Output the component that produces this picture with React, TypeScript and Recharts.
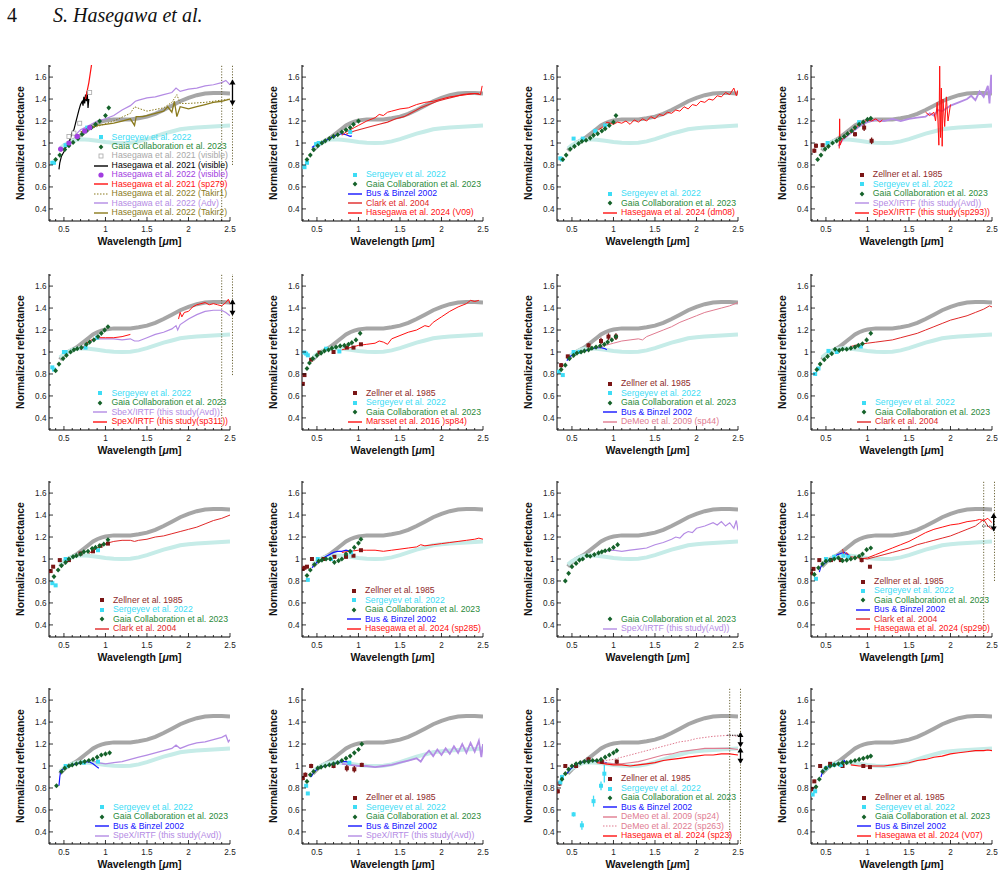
import React from 'react';
import { ComposedChart, Line, Scatter, XAxis, YAxis, ErrorBar, ReferenceLine, ReferenceDot, Legend } from 'recharts';

// ---------- axes ----------
const X_DOM = [0.32, 2.5];
const Y_DOM = [0.29, 1.71];
const X_TICKS = [0.4, 0.5, 0.6, 0.7, 0.8, 0.9, 1, 1.1, 1.2, 1.3, 1.4, 1.5, 1.6, 1.7, 1.8, 1.9, 2, 2.1, 2.2, 2.3, 2.4, 2.5];
const X_MAJOR = [0.5, 1, 1.5, 2, 2.5];
const Y_TICKS = [0.3, 0.4, 0.5, 0.6, 0.7, 0.8, 0.9, 1, 1.1, 1.2, 1.3, 1.4, 1.5, 1.6, 1.7];
const Y_MAJOR = [0.4, 0.6, 0.8, 1, 1.2, 1.4, 1.6];

// ---------- templates (all panels) ----------
const GRAY_TEMPLATE = [[0.45,0.93],[0.5,0.97],[0.55,1.0],[0.6,1.02],[0.65,1.04],[0.7,1.07],[0.75,1.1],[0.8,1.13],[0.85,1.16],[0.9,1.18],[0.95,1.195],[1.0,1.205],[1.1,1.215],[1.2,1.215],[1.3,1.215],[1.4,1.225],[1.5,1.24],[1.6,1.265],[1.7,1.3],[1.8,1.34],[1.9,1.38],[2.0,1.41],[2.1,1.435],[2.2,1.45],[2.3,1.455],[2.4,1.455],[2.5,1.45]];
const CYAN_TEMPLATE = [[0.45,0.95],[0.5,0.98],[0.55,1.0],[0.6,1.02],[0.65,1.03],[0.7,1.035],[0.8,1.03],[0.9,1.02],[1.0,1.01],[1.1,1.003],[1.2,1.0],[1.3,1.003],[1.4,1.015],[1.5,1.035],[1.6,1.06],[1.7,1.085],[1.8,1.105],[1.9,1.125],[2.0,1.135],[2.1,1.14],[2.2,1.145],[2.3,1.15],[2.4,1.155],[2.5,1.16]];

// ---------- 203 Pompeja ----------
const POMPEJA_SERG = [[0.36,0.82],[0.38,0.82],[0.52,0.98],[0.78,1.14]];
const POMPEJA_GAIA = [[0.4,0.85],[0.45,0.89],[0.51,0.94],[0.56,0.975],[0.61,1.005],[0.67,1.04],[0.72,1.08],[0.77,1.11],[0.83,1.14],[0.88,1.17],[0.93,1.2],[1.0,1.25],[1.04,1.32]];
const POMPEJA_H21SQ = [[0.56,1.06],[0.62,1.09],[0.69,1.18],[0.81,1.46]];
const POMPEJA_H21VIS = [[0.44,0.76],[0.45,0.82],[0.47,0.88],[0.5,0.92],[0.53,0.97],[0.56,1.0],[0.58,1.05],[0.6,1.1],[0.62,1.12],[0.64,1.18],[0.66,1.24],[0.68,1.3],[0.7,1.35],[0.72,1.38],[0.73,1.34],[0.74,1.42],[0.75,1.36],[0.76,1.44],[0.77,1.38],[0.78,1.47],[0.79,1.32],[0.8,1.4]];
const POMPEJA_H22VIS = [[0.46,0.945],[0.56,1.0],[0.66,1.06],[0.75,1.11],[0.81,1.14]];
const POMPEJA_SP279 = [[0.76,1.4],[0.8,1.55],[0.84,1.75]];
const POMPEJA_TAKIR1 = [[0.72,1.1],[0.9,1.15],[1.1,1.2],[1.3,1.27],[1.35,1.33],[1.42,1.31],[1.5,1.29],[1.7,1.32],[1.8,1.37],[1.86,1.44],[1.9,1.36],[2.0,1.36],[2.2,1.37],[2.4,1.39],[2.5,1.4]];
const POMPEJA_ADV = [[0.62,1.06],[0.7,1.12],[0.8,1.16],[0.9,1.2],[1.0,1.22],[1.1,1.25],[1.2,1.3],[1.3,1.34],[1.36,1.38],[1.4,1.39],[1.5,1.41],[1.6,1.42],[1.7,1.44],[1.8,1.46],[1.85,1.5],[1.9,1.47],[2.0,1.49],[2.1,1.5],[2.2,1.52],[2.3,1.53],[2.4,1.55],[2.45,1.57],[2.5,1.53]];
const POMPEJA_TAKIR2 = [[0.7,1.1],[0.8,1.13],[0.9,1.16],[1.0,1.17],[1.1,1.18],[1.2,1.2],[1.3,1.22],[1.35,1.16],[1.37,1.24],[1.45,1.24],[1.5,1.25],[1.6,1.27],[1.7,1.29],[1.75,1.33],[1.8,1.28],[1.83,1.38],[1.86,1.24],[1.9,1.33],[2.0,1.31],[2.1,1.33],[2.2,1.35],[2.3,1.37],[2.4,1.38],[2.5,1.4]];

// ---------- 409 Aspasia ----------
const ASPASIA_SERG = [[0.35,0.78],[0.38,0.82],[0.49,0.99],[0.52,1.0],[0.9,1.1]];
const ASPASIA_GAIA = [[0.38,0.85],[0.42,0.89],[0.46,0.94],[0.51,0.975],[0.56,1.0],[0.6,1.02],[0.65,1.04],[0.7,1.06],[0.75,1.075],[0.8,1.1],[0.85,1.12],[0.9,1.14],[0.94,1.17],[1.0,1.2]];
const ASPASIA_BUS = [[0.44,0.96],[0.46,0.97],[0.5,0.985],[0.55,1.0],[0.6,1.02],[0.65,1.04],[0.7,1.06],[0.75,1.075],[0.8,1.085],[0.85,1.075],[0.9,1.06],[0.92,1.065]];
const ASPASIA_CLARK = [[0.85,1.08],[0.95,1.11],[1.05,1.13],[1.15,1.15],[1.25,1.17],[1.35,1.19],[1.45,1.22],[1.55,1.24],[1.65,1.28],[1.75,1.32],[1.85,1.35],[1.95,1.38],[2.05,1.4],[2.15,1.42],[2.25,1.44],[2.35,1.45],[2.45,1.45]];
const ASPASIA_V09 = [[0.8,1.07],[0.85,1.1],[0.9,1.12],[0.95,1.14],[1.0,1.16],[1.1,1.2],[1.2,1.23],[1.25,1.26],[1.3,1.25],[1.35,1.28],[1.4,1.29],[1.5,1.31],[1.6,1.32],[1.7,1.35],[1.8,1.37],[1.9,1.38],[2.0,1.4],[2.1,1.42],[2.2,1.43],[2.3,1.44],[2.4,1.45],[2.47,1.44],[2.49,1.52]];

// ---------- 212 Medea ----------
const MEDEA_SERG = [[0.36,0.86],[0.38,0.85],[0.52,1.04],[0.63,1.04],[0.78,1.11],[0.9,1.16]];
const MEDEA_GAIA = [[0.39,0.85],[0.43,0.89],[0.48,0.945],[0.53,0.97],[0.58,0.995],[0.62,1.015],[0.67,1.025],[0.72,1.045],[0.76,1.07],[0.81,1.085],[0.86,1.11],[0.9,1.13],[0.95,1.16],[1.0,1.19],[1.03,1.25]];
const MEDEA_DM08 = [[0.82,1.12],[0.88,1.15],[0.92,1.19],[0.96,1.18],[1.0,1.17],[1.05,1.19],[1.1,1.18],[1.15,1.2],[1.2,1.17],[1.25,1.21],[1.3,1.19],[1.35,1.22],[1.4,1.2],[1.45,1.24],[1.5,1.22],[1.55,1.26],[1.6,1.25],[1.65,1.28],[1.7,1.27],[1.75,1.3],[1.8,1.29],[1.85,1.33],[1.9,1.31],[1.95,1.35],[2.0,1.34],[2.05,1.38],[2.1,1.37],[2.15,1.4],[2.2,1.39],[2.25,1.43],[2.3,1.42],[2.35,1.46],[2.4,1.44],[2.45,1.5],[2.48,1.43],[2.5,1.48]];

// ---------- 1390 Abastumani ----------
const ABAS_ZELL = [[0.36,0.93,0.02],[0.38,0.975,0.02],[0.46,0.98,0.015],[0.85,1.08,0.02],[0.96,1.14,0.03],[1.05,1.02,0.03]];
const ABAS_SERG = [[0.52,1.0],[0.9,1.19]];
const ABAS_GAIA = [[0.4,0.85],[0.44,0.89],[0.49,0.945],[0.53,0.97],[0.58,1.0],[0.63,1.02],[0.67,1.04],[0.72,1.06],[0.76,1.085],[0.81,1.11],[0.85,1.14],[0.9,1.17],[0.95,1.19],[1.0,1.215],[1.04,1.225]];
const ABAS_AVD = [[0.65,0.97],[0.7,1.03],[0.8,1.09],[0.9,1.15],[1.0,1.19],[1.1,1.21],[1.2,1.2],[1.3,1.22],[1.4,1.2],[1.5,1.22],[1.6,1.23],[1.7,1.24],[1.75,1.27],[1.8,1.25],[1.85,1.3],[1.9,1.29],[2.0,1.34],[2.1,1.37],[2.2,1.4],[2.25,1.43],[2.3,1.39],[2.35,1.47],[2.4,1.42],[2.45,1.52],[2.47,1.36],[2.49,1.62],[2.5,1.45]];
const ABAS_SP293 = [[0.66,0.95],[0.665,1.22],[0.67,0.98],[0.7,1.04],[0.75,1.06],[0.8,1.1],[0.85,1.13],[0.9,1.17],[0.95,1.19],[1.0,1.21],[1.05,1.2],[1.1,1.22],[1.15,1.19],[1.18,1.21],[1.19,null],[1.68,null],[1.7,1.28],[1.75,1.25],[1.8,1.28],[1.82,1.2],[1.84,1.37],[1.86,0.98],[1.87,1.7],[1.88,1.05],[1.89,1.5],[1.9,0.97],[1.91,1.4],[1.93,1.15],[1.95,1.42],[1.97,1.2],[2.0,1.35]];

// ---------- 1093 Freda ----------
const FREDA_SERG = [[0.36,0.86],[0.38,0.84],[0.5,1.0],[0.52,1.0],[0.76,1.04],[0.9,1.13]];
const FREDA_GAIA = [[0.4,0.83],[0.44,0.89],[0.49,0.94],[0.53,0.97],[0.58,1.0],[0.62,1.02],[0.66,1.03],[0.71,1.04],[0.77,1.07],[0.81,1.09],[0.86,1.11],[0.91,1.14],[0.95,1.17],[0.99,1.2],[1.03,1.23]];
const FREDA_AVD = [[0.7,1.02],[0.8,1.09],[0.9,1.12],[1.0,1.12],[1.1,1.12],[1.2,1.11],[1.3,1.12],[1.35,1.1],[1.4,1.1],[1.5,1.13],[1.6,1.16],[1.7,1.18],[1.8,1.21],[1.85,1.24],[1.87,1.2],[1.9,1.25],[2.0,1.3],[2.1,1.34],[2.2,1.37],[2.3,1.38],[2.4,1.38],[2.45,1.36],[2.5,1.33]];
const FREDA_SP311 = [[0.7,1.02],[0.8,1.1],[0.9,1.13],[1.0,1.13],[1.1,1.13],[1.2,1.14],[1.3,1.16],[1.31,null],[1.87,null],[1.88,1.3],[1.9,1.36],[1.92,1.32],[1.95,1.36],[2.0,1.37],[2.05,1.41],[2.1,1.43],[2.15,1.44],[2.2,1.45],[2.25,1.43],[2.3,1.44],[2.35,1.43],[2.4,1.42],[2.45,1.45],[2.48,1.48],[2.5,1.44]];

// ---------- 268 Adorea ----------
const ADOREA_ZELL = [[0.33,0.71,0.01],[0.35,0.79,0.01],[0.43,0.93,0.01],[0.53,0.995,0.01],[0.7,1.0,0.01],[0.86,1.04,0.01],[0.94,1.04,0.01],[1.03,1.07,0.01]];
const ADOREA_SERG = [[0.35,0.995],[0.37,0.985],[0.39,0.97],[0.61,1.03],[0.77,1.005]];
const ADOREA_GAIA = [[0.38,0.85],[0.41,0.9],[0.45,0.94],[0.5,0.97],[0.55,0.99],[0.59,1.01],[0.64,1.02],[0.68,1.035],[0.73,1.045],[0.78,1.055],[0.83,1.06],[0.88,1.07],[0.92,1.085],[0.97,1.11],[1.02,1.17]];
const ADOREA_SP84 = [[0.8,1.02],[0.9,1.04],[1.0,1.06],[1.1,1.07],[1.2,1.08],[1.25,1.1],[1.3,1.09],[1.35,1.07],[1.4,1.12],[1.5,1.15],[1.6,1.18],[1.7,1.2],[1.8,1.24],[1.85,1.23],[1.9,1.27],[2.0,1.32],[2.1,1.37],[2.2,1.41],[2.3,1.44],[2.35,1.47],[2.4,1.46],[2.45,1.47]];

// ---------- 76 Freia ----------
const FREIA_ZELL = [[0.37,0.88,0.02],[0.45,0.96,0.015],[0.7,1.06,0.02],[0.85,1.1,0.03],[0.94,1.14,0.03],[1.03,1.14,0.03]];
const FREIA_SERG = [[0.34,0.82],[0.39,0.79],[0.52,1.0],[0.59,1.0]];
const FREIA_GAIA = [[0.37,0.84],[0.42,0.88],[0.47,0.94],[0.52,0.97],[0.56,0.99],[0.61,1.0],[0.65,1.01],[0.7,1.02],[0.74,1.035],[0.79,1.045],[0.84,1.055],[0.89,1.07],[0.93,1.09],[0.98,1.11],[1.03,1.14]];
const FREIA_BUS = [[0.44,0.92],[0.46,0.95],[0.5,0.97],[0.55,0.99],[0.6,1.0],[0.65,1.01],[0.7,1.02],[0.75,1.03],[0.8,1.04],[0.85,1.04],[0.9,1.03],[0.92,1.02]];
const FREIA_SP44 = [[0.82,1.04],[0.9,1.06],[1.0,1.08],[1.1,1.1],[1.2,1.11],[1.3,1.12],[1.35,1.11],[1.4,1.14],[1.5,1.17],[1.6,1.2],[1.7,1.23],[1.8,1.27],[1.9,1.3],[2.0,1.33],[2.1,1.36],[2.2,1.38],[2.3,1.4],[2.4,1.42],[2.5,1.45]];

// ---------- 517 Edith ----------
const EDITH_SERG = [[0.37,0.8],[0.41,0.85],[0.53,1.01],[0.63,1.0],[0.92,1.05]];
const EDITH_GAIA = [[0.39,0.84],[0.43,0.89],[0.48,0.93],[0.52,0.96],[0.57,0.985],[0.61,1.025],[0.66,1.015],[0.7,1.025],[0.75,1.025],[0.8,1.035],[0.85,1.045],[0.89,1.06],[0.94,1.075],[0.99,1.11],[1.04,1.17]];
const EDITH_CLARK = [[0.8,1.05],[0.9,1.07],[1.0,1.08],[1.1,1.09],[1.2,1.1],[1.3,1.11],[1.4,1.13],[1.5,1.15],[1.6,1.17],[1.7,1.2],[1.8,1.23],[1.9,1.26],[2.0,1.29],[2.1,1.31],[2.2,1.33],[2.3,1.36],[2.4,1.39],[2.47,1.42],[2.5,1.41]];

// ---------- 536 Merapi ----------
const MERAPI_ZELL = [[0.34,0.89,0.015],[0.37,0.93,0.01],[0.45,0.99,0.01],[0.56,0.99,0.01],[0.7,1.05,0.01],[0.85,1.07,0.015],[0.94,1.12,0.01],[1.03,1.14,0.01]];
const MERAPI_SERG = [[0.36,0.78],[0.4,0.76],[0.52,1.0],[0.91,1.08]];
const MERAPI_GAIA = [[0.38,0.84],[0.43,0.9],[0.47,0.94],[0.52,0.97],[0.56,1.0],[0.61,1.02],[0.65,1.03],[0.7,1.045],[0.74,1.065],[0.79,1.07],[0.84,1.095],[0.88,1.105],[0.93,1.12],[0.98,1.135],[1.03,1.175]];
const MERAPI_CLARK = [[0.8,1.05],[0.9,1.1],[1.0,1.14],[1.1,1.16],[1.2,1.17],[1.3,1.17],[1.35,1.16],[1.4,1.17],[1.5,1.18],[1.6,1.2],[1.7,1.21],[1.8,1.23],[1.9,1.25],[2.0,1.27],[2.1,1.29],[2.2,1.32],[2.3,1.35],[2.4,1.37],[2.5,1.4]];

// ---------- 117 Lomia ----------
const LOMIA_ZELL = [[0.33,0.91,0.01],[0.35,0.92,0.01],[0.38,0.93,0.01],[0.44,1.0,0.01],[0.58,1.0,0.01],[0.71,1.02,0.01],[0.85,1.02,0.015],[0.94,1.03,0.01],[1.03,1.08,0.01]];
const LOMIA_SERG = [[0.39,0.81],[0.51,1.0],[0.67,1.0],[0.91,1.06]];
const LOMIA_GAIA = [[0.38,0.85],[0.42,0.9],[0.47,0.95],[0.52,0.98],[0.56,0.99],[0.61,1.0],[0.66,1.0],[0.71,0.97],[0.76,0.985],[0.8,1.0],[0.85,1.045],[0.9,1.07],[0.95,1.105],[1.0,1.145],[1.03,1.18]];
const LOMIA_BUS = [[0.44,0.92],[0.46,0.94],[0.5,0.97],[0.55,0.99],[0.6,1.02],[0.65,1.04],[0.7,1.06],[0.75,1.07],[0.8,1.07],[0.85,1.08],[0.9,1.07],[0.92,1.08]];
const LOMIA_SP285 = [[0.8,1.06],[0.9,1.07],[1.0,1.08],[1.1,1.08],[1.2,1.08],[1.3,1.07],[1.4,1.08],[1.5,1.09],[1.6,1.1],[1.7,1.11],[1.75,1.13],[1.8,1.12],[1.9,1.13],[2.0,1.14],[2.1,1.15],[2.2,1.16],[2.3,1.17],[2.4,1.18],[2.45,1.19],[2.5,1.18]];

// ---------- 780 Armenia ----------
const ARMENIA_GAIA = [[0.42,0.8],[0.46,0.87],[0.5,0.93],[0.55,0.96],[0.59,0.99],[0.63,1.0],[0.68,1.03],[0.72,1.025],[0.77,1.04],[0.82,1.055],[0.86,1.065],[0.9,1.075],[0.95,1.085],[1.0,1.105],[1.05,1.13]];
const ARMENIA_AVD = [[0.9,1.07],[1.0,1.08],[1.1,1.07],[1.2,1.08],[1.3,1.09],[1.4,1.1],[1.5,1.13],[1.6,1.15],[1.7,1.18],[1.75,1.2],[1.8,1.19],[1.85,1.23],[1.9,1.25],[1.95,1.24],[2.0,1.28],[2.1,1.3],[2.2,1.33],[2.25,1.31],[2.3,1.34],[2.35,1.3],[2.4,1.33],[2.45,1.28],[2.48,1.35],[2.5,1.26]];

// ---------- 209 Dido ----------
const DIDO_ZELL = [[0.32,0.87,0.01],[0.35,0.91,0.01],[0.42,0.99,0.01],[0.56,0.99,0.01],[0.68,0.99,0.01],[0.93,0.99,0.02],[1.03,0.93,0.015]];
const DIDO_SERG = [[0.38,0.82],[0.5,1.0],[0.6,1.02],[0.71,1.03],[0.77,1.02]];
const DIDO_GAIA = [[0.36,0.86],[0.41,0.92],[0.46,0.955],[0.5,0.98],[0.55,0.99],[0.6,1.0],[0.65,1.01],[0.7,0.985],[0.75,0.99],[0.8,1.0],[0.85,1.01],[0.9,1.025],[0.94,1.045],[0.99,1.085],[1.04,1.1]];
const DIDO_BUS = [[0.42,0.88],[0.44,0.93],[0.48,0.96],[0.52,0.98],[0.56,1.0],[0.6,1.02],[0.64,1.04],[0.68,1.05],[0.72,1.06],[0.76,1.04],[0.78,1.03]];
const DIDO_CLARK = [[0.7,1.09],[0.72,1.03],[0.75,1.06],[0.8,1.02],[0.9,1.01],[1.0,1.0],[1.1,1.02],[1.2,1.04],[1.3,1.06],[1.4,1.08],[1.5,1.1],[1.6,1.13],[1.7,1.15],[1.8,1.17],[1.9,1.19],[2.0,1.21],[2.1,1.24],[2.2,1.27],[2.3,1.3],[2.35,1.33],[2.4,1.36],[2.45,1.3],[2.5,1.27]];
const DIDO_SP290 = [[0.9,1.0],[1.0,1.01],[1.1,1.04],[1.2,1.07],[1.3,1.1],[1.4,1.13],[1.5,1.16],[1.6,1.2],[1.7,1.24],[1.8,1.27],[1.9,1.29],[2.0,1.31],[2.1,1.32],[2.2,1.34],[2.3,1.35],[2.35,1.36],[2.4,1.35],[2.45,1.37],[2.5,1.33]];

// ---------- 491 Carina ----------
const CARINA_SERG = [[0.52,1.0],[0.74,1.03],[0.91,1.04]];
const CARINA_GAIA = [[0.41,0.82],[0.47,0.95],[0.51,0.98],[0.56,1.0],[0.6,1.01],[0.65,1.02],[0.7,1.03],[0.75,1.04],[0.8,1.05],[0.85,1.06],[0.9,1.08],[0.95,1.1],[1.0,1.11],[1.05,1.12]];
const CARINA_BUS = [[0.44,0.82],[0.45,0.9],[0.46,0.95],[0.5,0.98],[0.55,1.0],[0.6,1.01],[0.65,1.02],[0.7,1.03],[0.75,1.035],[0.8,1.04],[0.85,1.02],[0.9,0.99],[0.92,0.98]];
const CARINA_AVD = [[0.85,1.05],[0.9,1.03],[1.0,1.02],[1.1,1.03],[1.2,1.04],[1.3,1.06],[1.4,1.08],[1.5,1.1],[1.6,1.12],[1.7,1.14],[1.8,1.16],[1.85,1.19],[1.9,1.16],[2.0,1.19],[2.1,1.21],[2.2,1.22],[2.3,1.24],[2.4,1.26],[2.45,1.28],[2.48,1.22],[2.5,1.24]];

// ---------- 713 Luscinia ----------
const LUSCINIA_ZELL = [[0.33,0.89,0.02],[0.36,0.92,0.02],[0.43,1.0,0.02],[0.7,1.0,0.02],[0.86,0.98,0.03],[0.95,0.97,0.03],[1.04,1.01,0.02]];
const LUSCINIA_SERG = [[0.37,0.82],[0.39,0.75],[0.89,1.03]];
const LUSCINIA_GAIA = [[0.38,0.86],[0.42,0.92],[0.46,0.95],[0.51,0.98],[0.55,0.99],[0.6,1.0],[0.65,1.01],[0.7,1.02],[0.75,1.03],[0.8,1.05],[0.85,1.07],[0.9,1.09],[0.95,1.12],[1.0,1.15],[1.04,1.2]];
const LUSCINIA_BUS = [[0.43,0.9],[0.46,0.94],[0.5,0.97],[0.55,0.99],[0.6,1.0],[0.65,1.01],[0.7,1.02],[0.75,1.03],[0.8,1.04],[0.85,1.04],[0.9,1.03]];
const LUSCINIA_AVD = [[0.8,1.02],[0.9,1.01],[1.0,1.0],[1.1,1.0],[1.2,0.99],[1.3,1.0],[1.4,1.01],[1.5,1.03],[1.6,1.05],[1.7,1.07],[1.75,1.04],[1.8,1.1],[1.85,1.14],[1.9,1.09],[1.95,1.15],[2.0,1.1],[2.05,1.16],[2.1,1.11],[2.15,1.18],[2.2,1.12],[2.25,1.2],[2.3,1.12],[2.35,1.21],[2.4,1.13],[2.45,1.23],[2.48,1.08],[2.5,1.2]];

// ---------- 128 Nemesis ----------
const NEMESIS_ZELL = [[0.33,0.77,0.02],[0.35,0.84,0.02],[0.42,1.0,0.015],[0.55,1.0,0.015],[0.7,1.06,0.02],[0.86,1.04,0.02],[1.04,1.04,0.02]];
const NEMESIS_SERG = [[0.36,0.85,0.02],[0.38,0.9,0.02],[0.52,0.56,0.02],[0.62,0.46,0.04],[0.76,0.68,0.05],[0.85,0.82,0.04],[0.89,0.93,0.08]];
const NEMESIS_GAIA = [[0.38,0.88],[0.42,0.93],[0.46,0.97],[0.5,1.0],[0.55,1.02],[0.6,1.03],[0.65,1.04],[0.7,1.04],[0.75,1.05],[0.8,1.05],[0.85,1.06],[0.9,1.08],[0.95,1.1],[1.0,1.12],[1.04,1.14]];
const NEMESIS_BUS = [[0.44,0.93],[0.48,0.97],[0.52,1.0],[0.56,1.02],[0.6,1.03],[0.65,1.04],[0.7,1.05],[0.75,1.05],[0.8,1.045],[0.85,1.04],[0.9,1.03],[0.92,1.03]];
const NEMESIS_SP24 = [[0.82,1.04],[0.9,1.03],[1.0,1.02],[1.1,1.02],[1.2,1.03],[1.3,1.04],[1.4,1.06],[1.5,1.08],[1.6,1.1],[1.7,1.11],[1.8,1.13],[1.9,1.14],[2.0,1.15],[2.1,1.16],[2.2,1.16],[2.3,1.16],[2.4,1.16],[2.5,1.15]];
const NEMESIS_SP263 = [[0.8,1.05],[0.9,1.05],[1.0,1.06],[1.1,1.08],[1.2,1.1],[1.3,1.12],[1.4,1.14],[1.5,1.16],[1.6,1.18],[1.7,1.2],[1.8,1.22],[1.9,1.23],[2.0,1.25],[2.1,1.26],[2.2,1.27],[2.3,1.275],[2.4,1.28],[2.5,1.27]];
const NEMESIS_SP23 = [[0.8,1.03],[0.9,1.02],[1.0,1.01],[1.1,1.01],[1.2,1.0],[1.3,1.01],[1.4,1.02],[1.5,1.03],[1.6,1.05],[1.7,1.06],[1.8,1.07],[1.9,1.08],[2.0,1.09],[2.1,1.1],[2.2,1.1],[2.3,1.11],[2.4,1.11],[2.5,1.1]];

// ---------- 206 Hersilia ----------
const HERSILIA_ZELL = [[0.33,0.79,0.02],[0.36,0.86,0.015],[0.43,1.0,0.015],[0.55,1.02,0.015],[0.7,1.0,0.015],[0.95,1.0,0.015],[1.03,0.99,0.015]];
const HERSILIA_SERG = [[0.34,0.74],[0.37,0.77],[0.5,0.98],[0.6,1.01],[0.68,1.01]];
const HERSILIA_GAIA = [[0.38,0.81],[0.42,0.88],[0.46,0.95],[0.5,0.98],[0.55,1.0],[0.6,1.01],[0.65,1.02],[0.7,1.03],[0.75,1.03],[0.8,1.04],[0.85,1.05],[0.9,1.06],[0.95,1.07],[1.0,1.08],[1.04,1.09]];
const HERSILIA_BUS = [[0.44,0.9],[0.46,0.95],[0.5,0.98],[0.55,1.0],[0.6,1.01],[0.65,1.02],[0.7,1.03],[0.72,1.05],[0.75,1.02]];
const HERSILIA_V07 = [[0.8,1.01],[0.9,1.0],[1.0,1.0],[1.1,1.0],[1.2,1.0],[1.3,1.01],[1.4,1.02],[1.5,1.03],[1.6,1.05],[1.7,1.06],[1.8,1.08],[1.9,1.09],[2.0,1.11],[2.1,1.12],[2.2,1.13],[2.3,1.14],[2.4,1.14],[2.45,1.145],[2.5,1.14]];

// ---------- styles ----------
const FONT = "'Liberation Sans', Arial, Helvetica, sans-serif";
const C = {
  serg: '#3ddcf5', gaia: '#15622a', gaiaT: '#2a8a3a', zell: '#7a1515', zellT: '#8e2a2a',
  bus: '#1414ff', clark: '#e02828', has: '#ff1010', avd: '#b48be4', demeo: '#e07b90',
  olive: '#8a7a1c', purple: '#a23de0', graysq: '#a8a8a8', black: '#000000',
  grayT: '#a6a6a6', cyanT: '#c6ece8'
};

const L = (t, c, s, tc) => ({ t, c, s, tc: tc || c });
const LG = {
  zell: L('Zellner et al. 1985', C.zell, 'sq', C.zellT),
  serg: L('Sergeyev et al. 2022', C.serg, 'sq'),
  gaia: L('Gaia Collaboration et al. 2023', C.gaia, 'dia', C.gaiaT),
  bus: L('Bus & Binzel 2002', C.bus, 'line'),
  clark: L('Clark et al. 2004', C.clark, 'line'),
};

const PANELS = [
  { title: '203 Pompeja',
    lines: [{ d: POMPEJA_ADV, c: C.avd, w: 1.2 }, { d: POMPEJA_TAKIR1, c: C.olive, w: 1, dash: '1.5 1.5' }, { d: POMPEJA_TAKIR2, c: C.olive, w: 1.3 }, { d: POMPEJA_H21VIS, c: C.black, w: 1.2 }, { d: POMPEJA_SP279, c: C.has, w: 1.2 }],
    pts: [{ d: POMPEJA_SERG, c: C.serg, s: 'sq' }, { d: POMPEJA_GAIA, c: C.gaia, s: 'dia' }, { d: POMPEJA_H21SQ, c: C.graysq, s: 'osq' }, { d: POMPEJA_H22VIS, c: C.purple, s: 'circ' }],
    legend: [LG.serg, LG.gaia, L('Hasegawa et al. 2021 (visible)', C.graysq, 'osq'), L('Hasegawa et al. 2021 (visible)', C.black, 'line'), L('Hasegawa et al. 2022 (visible)', C.purple, 'circ'), L('Hasegawa et al. 2021 (sp279)', C.has, 'line'), L('Hasegawa et al. 2022 (Takir1)', C.olive, 'dot'), L('Hasegawa et al. 2022 (Adv)', C.avd, 'line'), L('Hasegawa et al. 2022 (Takir2)', C.olive, 'line')],
    vlines: [{ x: 2.4, y1: 0.29, y2: 1.71 }, { x: 2.53, y1: 0.8, y2: 1.71 }], hlines: [], arrows: [{ x: 2.53, y1: 1.35, y2: 1.57 }] },
  { title: '409 Aspasia',
    lines: [{ d: ASPASIA_BUS, c: C.bus, w: 1.2 }, { d: ASPASIA_CLARK, c: C.clark, w: 1.1 }, { d: ASPASIA_V09, c: C.has, w: 1 }],
    pts: [{ d: ASPASIA_SERG, c: C.serg, s: 'sq' }, { d: ASPASIA_GAIA, c: C.gaia, s: 'dia' }],
    legend: [LG.serg, LG.gaia, LG.bus, LG.clark, L('Hasegawa et al. 2024 (V09)', C.has, 'line')], vlines: [], hlines: [], arrows: [] },
  { title: '212 Medea',
    lines: [{ d: MEDEA_DM08, c: C.has, w: 1 }],
    pts: [{ d: MEDEA_SERG, c: C.serg, s: 'sq' }, { d: MEDEA_GAIA, c: C.gaia, s: 'dia' }],
    legend: [LG.serg, LG.gaia, L('Hasegawa et al. 2024 (dm08)', C.has, 'line')], vlines: [], hlines: [], arrows: [] },
  { title: '1390 Abastumani',
    lines: [{ d: ABAS_AVD, c: C.avd, w: 1.8 }, { d: ABAS_SP293, c: C.has, w: 1 }],
    pts: [{ d: ABAS_ZELL, c: C.zell, s: 'sq', err: true }, { d: ABAS_SERG, c: C.serg, s: 'sq' }, { d: ABAS_GAIA, c: C.gaia, s: 'dia' }],
    legend: [LG.zell, LG.serg, LG.gaia, L('SpeX/IRTF (this study(Avd))', C.avd, 'line'), L('SpeX/IRTF (this study(sp293))', C.has, 'line')], vlines: [], hlines: [], arrows: [] },
  { title: '1093 Freda',
    lines: [{ d: FREDA_AVD, c: C.avd, w: 1.2 }, { d: FREDA_SP311, c: C.has, w: 1 }],
    pts: [{ d: FREDA_SERG, c: C.serg, s: 'sq' }, { d: FREDA_GAIA, c: C.gaia, s: 'dia' }],
    legend: [LG.serg, LG.gaia, L('SbeX/IRTF (this study(Avd))', C.avd, 'line'), L('SpeX/IRTF (this study(sp311))', C.has, 'line')],
    vlines: [{ x: 2.4, y1: 0.29, y2: 1.71 }, { x: 2.53, y1: 0.79, y2: 1.71 }], hlines: [], arrows: [{ x: 2.53, y1: 1.34, y2: 1.47 }] },
  { title: '268 Adorea',
    lines: [{ d: ADOREA_SP84, c: C.has, w: 1 }],
    pts: [{ d: ADOREA_ZELL, c: C.zell, s: 'sq', err: true }, { d: ADOREA_SERG, c: C.serg, s: 'sq' }, { d: ADOREA_GAIA, c: C.gaia, s: 'dia' }],
    legend: [LG.zell, LG.serg, LG.gaia, L('Marsset et al. 2016 )sp84)', C.has, 'line')], vlines: [], hlines: [], arrows: [] },
  { title: '76 Freia',
    lines: [{ d: FREIA_BUS, c: C.bus, w: 1.2 }, { d: FREIA_SP44, c: C.demeo, w: 1 }],
    pts: [{ d: FREIA_ZELL, c: C.zell, s: 'sq', err: true }, { d: FREIA_SERG, c: C.serg, s: 'sq' }, { d: FREIA_GAIA, c: C.gaia, s: 'dia' }],
    legend: [LG.zell, LG.serg, LG.gaia, LG.bus, L('DeMeo et al. 2009 (sp44)', C.demeo, 'line')], vlines: [], hlines: [], arrows: [] },
  { title: '517 Edith',
    lines: [{ d: EDITH_CLARK, c: C.clark, w: 1 }],
    pts: [{ d: EDITH_SERG, c: C.serg, s: 'sq' }, { d: EDITH_GAIA, c: C.gaia, s: 'dia' }],
    legend: [LG.serg, LG.gaia, LG.clark], vlines: [], hlines: [], arrows: [] },
  { title: '536 Merapi',
    lines: [{ d: MERAPI_CLARK, c: C.clark, w: 1 }],
    pts: [{ d: MERAPI_ZELL, c: C.zell, s: 'sq', err: true }, { d: MERAPI_SERG, c: C.serg, s: 'sq' }, { d: MERAPI_GAIA, c: C.gaia, s: 'dia' }],
    legend: [LG.zell, LG.serg, LG.gaia, LG.clark], vlines: [], hlines: [], arrows: [] },
  { title: '117 Lomia',
    lines: [{ d: LOMIA_BUS, c: C.bus, w: 1.2 }, { d: LOMIA_SP285, c: C.has, w: 1 }],
    pts: [{ d: LOMIA_ZELL, c: C.zell, s: 'sq', err: true }, { d: LOMIA_SERG, c: C.serg, s: 'sq' }, { d: LOMIA_GAIA, c: C.gaia, s: 'dia' }],
    legend: [LG.zell, LG.serg, LG.gaia, LG.bus, L('Hasegawa et al. 2024 (sp285)', C.has, 'line')], vlines: [], hlines: [], arrows: [] },
  { title: '780 Armenia',
    lines: [{ d: ARMENIA_AVD, c: C.avd, w: 1.2 }],
    pts: [{ d: ARMENIA_GAIA, c: C.gaia, s: 'dia' }],
    legend: [LG.gaia, L('SpeX/IRTF (this study(Avd))', C.avd, 'line')], vlines: [], hlines: [], arrows: [] },
  { title: '209 Dido',
    lines: [{ d: DIDO_BUS, c: C.bus, w: 1.2 }, { d: DIDO_CLARK, c: C.clark, w: 1 }, { d: DIDO_SP290, c: C.has, w: 1 }],
    pts: [{ d: DIDO_ZELL, c: C.zell, s: 'sq', err: true }, { d: DIDO_SERG, c: C.serg, s: 'sq' }, { d: DIDO_GAIA, c: C.gaia, s: 'dia' }],
    legend: [LG.zell, LG.serg, LG.gaia, LG.bus, LG.clark, L('Hasegawa et al. 2024 (sp290)', C.has, 'line')],
    vlines: [{ x: 2.4, y1: 0.29, y2: 1.71 }, { x: 2.53, y1: 0.8, y2: 1.71 }], hlines: [{ y: 1.3, x1: 2.38, x2: 2.5 }], arrows: [{ x: 2.52, y1: 1.26, y2: 1.41 }] },
  { title: '491 Carina',
    lines: [{ d: CARINA_AVD, c: C.avd, w: 1.3 }, { d: CARINA_BUS, c: C.bus, w: 1.2 }],
    pts: [{ d: CARINA_SERG, c: C.serg, s: 'sq' }, { d: CARINA_GAIA, c: C.gaia, s: 'dia' }],
    legend: [LG.serg, LG.gaia, LG.bus, L('SpeX/IRTF (this study(Avd))', C.avd, 'line')], vlines: [], hlines: [], arrows: [] },
  { title: '713 Lu scinia',
    lines: [{ d: LUSCINIA_AVD, c: C.avd, w: 1.8 }, { d: LUSCINIA_BUS, c: C.bus, w: 1.2 }],
    pts: [{ d: LUSCINIA_ZELL, c: C.zell, s: 'sq', err: true }, { d: LUSCINIA_SERG, c: C.serg, s: 'sq' }, { d: LUSCINIA_GAIA, c: C.gaia, s: 'dia' }],
    legend: [LG.zell, LG.serg, LG.gaia, LG.bus, L('SpeX/IRTF (this study(Avd))', C.avd, 'line')], vlines: [], hlines: [], arrows: [] },
  { title: '128 Nemesis',
    lines: [{ d: NEMESIS_BUS, c: C.bus, w: 1.2 }, { d: NEMESIS_SP24, c: C.demeo, w: 1.1 }, { d: NEMESIS_SP263, c: C.demeo, w: 1, dash: '1.5 1.5' }, { d: NEMESIS_SP23, c: C.has, w: 1.2 }],
    pts: [{ d: NEMESIS_ZELL, c: C.zell, s: 'sq', err: true }, { d: NEMESIS_SERG, c: C.serg, s: 'sq', err: true }, { d: NEMESIS_GAIA, c: C.gaia, s: 'dia' }],
    legend: [LG.zell, LG.serg, LG.gaia, LG.bus, L('DeMeo et al. 2009 (sp24)', C.demeo, 'line'), L('DeMeo et al. 2022 (sp263)', C.demeo, 'dot'), L('Hasegawa et al. 2024 (sp23)', C.has, 'line')],
    vlines: [{ x: 2.4, y1: 0.29, y2: 1.71 }, { x: 2.53, y1: 0.29, y2: 1.71 }], hlines: [{ y: 1.28, x1: 2.37, x2: 2.52 }], arrows: [{ x: 2.53, y1: 1.18, y2: 1.3 }, { x: 2.53, y1: 1.03, y2: 1.16 }] },
  { title: '206 Hersilia',
    lines: [{ d: HERSILIA_BUS, c: C.bus, w: 1.2 }, { d: HERSILIA_V07, c: C.has, w: 1.1 }],
    pts: [{ d: HERSILIA_ZELL, c: C.zell, s: 'sq', err: true }, { d: HERSILIA_SERG, c: C.serg, s: 'sq' }, { d: HERSILIA_GAIA, c: C.gaia, s: 'dia' }],
    legend: [LG.zell, LG.serg, LG.gaia, LG.bus, L('Hasegawa et al. 2024 (V07)', C.has, 'line')], vlines: [], hlines: [], arrows: [] },
];

// ---------- layout ----------
const PLOT_LEFTS = [49, 302, 557, 811];
const PLOT_TOPS = [65, 274, 481, 688];
const W = 250, H = 210;
const ML = 49, MT = 12, PW = 181, PH = 156;
const PR = ML + PW, PB = MT + PH;
const TM = 3;

const near = (arr, v) => arr.some((a) => Math.abs(a - v) < 1e-6);
const fmt = (v) => (Math.abs(v - 1) < 1e-6 ? '1' : Math.abs(v - 2) < 1e-6 ? '2' : v.toFixed(1));
const toPts = (a) => a.map((p) => ({ x: p[0], y: p[1], e: p[2] ?? 0 }));

const BottomTick = (p) => {
  const v = p.payload.value; const maj = near(X_MAJOR, v); const y0 = p.y - TM;
  return (<g><line x1={p.x} x2={p.x} y1={y0} y2={y0 - (maj ? 4 : 2)} stroke="#000" strokeWidth={0.8} />
    {maj && <text x={p.x} y={y0 + 10.5} textAnchor="middle" fontSize={8.2} fontFamily={FONT} fill="#222">{fmt(v)}</text>}</g>);
};
const TopTick = (p) => {
  const v = p.payload.value; const maj = near(X_MAJOR, v); const y0 = p.y;
  return <line x1={p.x} x2={p.x} y1={y0} y2={y0 + (maj ? 4 : 2)} stroke="#000" strokeWidth={0.8} />;
};
const LeftTick = (p) => {
  const v = p.payload.value; const maj = near(Y_MAJOR, v); const x0 = p.x + TM;
  return (<g><line x1={x0} x2={x0 + (maj ? 4 : 2)} y1={p.y} y2={p.y} stroke="#000" strokeWidth={0.8} />
    {maj && <text x={x0 - 2.5} y={p.y + 2.9} textAnchor="end" fontSize={8.2} fontFamily={FONT} fill="#222">{fmt(v)}</text>}</g>);
};
const RightTick = (p) => {
  const v = p.payload.value; const maj = near(Y_MAJOR, v); const x0 = p.x;
  return <line x1={x0} x2={x0 - (maj ? 4 : 2)} y1={p.y} y2={p.y} stroke="#000" strokeWidth={0.8} />;
};

const Sym = ({ s, cx, cy, c }) => {
  if (cx == null || cy == null) return null;
  if (s === 'sq') return <rect x={cx - 2} y={cy - 2} width={4} height={4} fill={c} />;
  if (s === 'dia') return <path d={`M${cx} ${cy - 2.6}L${cx + 2.4} ${cy}L${cx} ${cy + 2.6}L${cx - 2.4} ${cy}Z`} fill={c} />;
  if (s === 'circ') return <circle cx={cx} cy={cy} r={2.6} fill={c} />;
  if (s === 'osq') return <rect x={cx - 2} y={cy - 2} width={4} height={4} fill="#fff" stroke={c} strokeWidth={0.8} />;
  return null;
};

const LegendBox = ({ items }) => (
  <div style={{ fontFamily: FONT, fontSize: 8.7 }}>
    {items.map((it, i) => (
      <div key={i} style={{ display: 'flex', alignItems: 'center', height: 9.45, whiteSpace: 'nowrap' }}>
        <svg width={16} height={8} style={{ flex: 'none' }}>
          {it.s === 'line' && <line x1={1} x2={15} y1={4} y2={4} stroke={it.c} strokeWidth={1.4} />}
          {it.s === 'dot' && <line x1={1} x2={15} y1={4} y2={4} stroke={it.c} strokeWidth={1.2} strokeDasharray="1.5 1.5" />}
          {it.s !== 'line' && it.s !== 'dot' && <Sym s={it.s} cx={8} cy={4} c={it.c} />}
        </svg>
        <span style={{ marginLeft: 3, color: it.tc, lineHeight: '9.45px' }}>{it.t}</span>
      </div>
    ))}
  </div>
);

const Tri = (up) => (p) => {
  const { cx, cy } = p;
  const d = up ? `M${cx} ${cy - 1}L${cx + 3} ${cy + 4}L${cx - 3} ${cy + 4}Z` : `M${cx} ${cy + 1}L${cx + 3} ${cy - 4}L${cx - 3} ${cy - 4}Z`;
  return <path d={d} fill="#000" />;
};

function Panel({ spec, left, top }) {
  return (
    <div style={{ position: 'absolute', left, top, width: W, height: H }}>
      <ComposedChart width={W} height={H} margin={{ top: MT, right: W - PR, bottom: 0, left: 0 }}>
        <XAxis xAxisId="b" type="number" dataKey="x" domain={X_DOM} allowDataOverflow ticks={X_TICKS} interval={0}
          tickSize={0} tickMargin={TM} tick={BottomTick} axisLine={{ stroke: '#000', strokeWidth: 1 }} height={H - PB}
          label={() => (<text x={ML + PW / 2} y={PB + 24} textAnchor="middle" fontSize={10.5} fontWeight="bold" fontFamily={FONT} fill="#111">Wavelength [<tspan fontStyle="italic">μ</tspan>m]</text>)} />
        <XAxis xAxisId="t" orientation="top" type="number" dataKey="x" domain={X_DOM} allowDataOverflow ticks={X_TICKS} interval={0}
          tickSize={0} tickMargin={0} tick={TopTick} axisLine={{ stroke: '#000', strokeWidth: 1 }} height={0}
          label={() => (<text x={ML + 3} y={MT + 12.5} fontSize={9.8} fontWeight="bold" fontFamily={FONT} fill="#000">{spec.title}</text>)} />
        <YAxis yAxisId="l" type="number" domain={Y_DOM} allowDataOverflow ticks={Y_TICKS} interval={0}
          tickSize={0} tickMargin={TM} tick={LeftTick} axisLine={{ stroke: '#000', strokeWidth: 1 }} width={ML}
          label={() => (<text x={20} y={MT + PH / 2} transform={`rotate(-90 20 ${MT + PH / 2})`} dy={3.6} textAnchor="middle" fontSize={10.4} fontWeight="bold" fontFamily={FONT} fill="#111">Normalized reflectance</text>)} />
        <YAxis yAxisId="r" orientation="right" type="number" domain={Y_DOM} allowDataOverflow ticks={Y_TICKS} interval={0}
          tickSize={0} tickMargin={0} tick={RightTick} axisLine={{ stroke: '#000', strokeWidth: 1 }} width={0} />
        <Line xAxisId="b" yAxisId="l" data={toPts(GRAY_TEMPLATE)} dataKey="y" stroke={C.grayT} strokeWidth={4} dot={false} activeDot={false} isAnimationActive={false} />
        <Line xAxisId="b" yAxisId="l" data={toPts(CYAN_TEMPLATE)} dataKey="y" stroke={C.cyanT} strokeWidth={4} dot={false} activeDot={false} isAnimationActive={false} />
        {spec.lines.map((s, i) => (
          <Line key={'l' + i} xAxisId="b" yAxisId="l" data={toPts(s.d)} dataKey="y" stroke={s.c} strokeWidth={s.w} strokeDasharray={s.dash}
            dot={false} activeDot={false} isAnimationActive={false} connectNulls={false} />
        ))}
        {spec.pts.map((s, i) => (
          <Scatter key={'p' + i} xAxisId="b" yAxisId="l" data={toPts(s.d)} dataKey="y" isAnimationActive={false}
            shape={(p) => <Sym s={s.s} cx={p.cx} cy={p.cy} c={s.c} />}>
            {s.err && <ErrorBar dataKey="e" direction="y" width={0} stroke={s.c} strokeWidth={1.3} />}
          </Scatter>
        ))}
        {spec.vlines.map((v, i) => (
          <ReferenceLine key={'v' + i} xAxisId="b" yAxisId="l" ifOverflow="visible" segment={[{ x: v.x, y: v.y1 }, { x: v.x, y: v.y2 }]} stroke="#5a5220" strokeWidth={0.9} strokeDasharray="1.2 1.6" />
        ))}
        {spec.hlines.map((v, i) => (
          <ReferenceLine key={'h' + i} xAxisId="b" yAxisId="l" ifOverflow="visible" segment={[{ x: v.x1, y: v.y }, { x: v.x2, y: v.y }]} stroke="#000" strokeWidth={0.9} strokeDasharray="1.2 1.2" />
        ))}
        {spec.arrows.map((a, i) => (
          <ReferenceLine key={'a' + i} xAxisId="b" yAxisId="l" ifOverflow="visible" segment={[{ x: a.x, y: a.y1 }, { x: a.x, y: a.y2 }]} stroke="#000" strokeWidth={1.3} />
        ))}
        {spec.arrows.map((a, i) => (
          <ReferenceDot key={'au' + i} xAxisId="b" yAxisId="l" ifOverflow="visible" x={a.x} y={a.y2} r={3} shape={Tri(true)} />
        ))}
        {spec.arrows.map((a, i) => (
          <ReferenceDot key={'ad' + i} xAxisId="b" yAxisId="l" ifOverflow="visible" x={a.x} y={a.y1} r={3} shape={Tri(false)} />
        ))}
        <Legend layout="vertical" align="center" verticalAlign="middle"
          wrapperStyle={{ left: 'auto', top: 'auto', right: W - PR + 2, bottom: H - PB + 3.5, width: 'auto', height: 'auto' }}
          content={() => <LegendBox items={spec.legend} />} />
      </ComposedChart>
    </div>
  );
}

export default function App() {
  return (
    <div style={{ position: 'absolute', left: 0, top: 0, width: 1004, height: 877, background: '#fff', overflow: 'hidden' }}>
      <div style={{ position: 'absolute', left: 7, top: 2, fontFamily: "'Liberation Serif', 'Times New Roman', serif", fontSize: 20, lineHeight: '26px', color: '#111' }}>4</div>
      <div style={{ position: 'absolute', left: 53, top: 2, fontFamily: "'Liberation Serif', 'Times New Roman', serif", fontSize: 20, fontStyle: 'italic', lineHeight: '26px', color: '#111' }}>S. Hasegawa et al.</div>
      {PANELS.map((p, i) => (
        <Panel key={i} spec={p} left={PLOT_LEFTS[i % 4] - ML} top={PLOT_TOPS[Math.floor(i / 4)] - MT} />
      ))}
    </div>
  );
}
